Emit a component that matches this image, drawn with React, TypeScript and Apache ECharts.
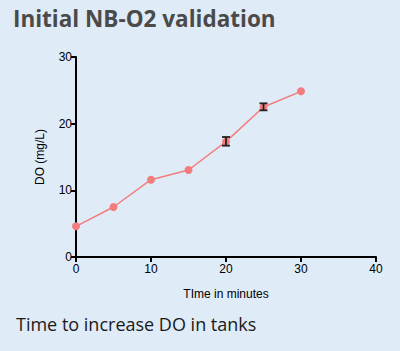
import React, { useEffect, useRef } from "react";
import * as echarts from "echarts";

const minutes = [0, 5, 10, 15, 20, 25, 30];
const doValues = [4.6, 7.5, 11.6, 13.05, 17.3, 22.5, 24.85];
const errLow = [4.6, 7.5, 11.6, 13.05, 16.7, 22.0, 24.85];
const errHigh = [4.6, 7.5, 11.6, 13.05, 18.0, 23.05, 24.85];
const xTicks = [0, 10, 20, 30, 40];
const yTicks = [0, 10, 20, 30];

export default function App() {
  const ref = useRef<HTMLDivElement>(null);
  useEffect(() => {
    const chart = echarts.init(ref.current!, null, { renderer: "svg" });
    const errData = minutes
      .map((m, i) => [m, errLow[i], errHigh[i]])
      .filter((d) => d[2] - d[1] > 0.05);
    chart.setOption({
      animation: false,
      backgroundColor: "#dfebf7",
      grid: { left: 76, right: 24, top: 57, bottom: 94 },
      xAxis: {
        type: "value",
        min: xTicks[0],
        max: xTicks[xTicks.length - 1],
        interval: 10,
        name: "TIme in minutes",
        nameLocation: "middle",
        nameGap: 31,
        nameTextStyle: { fontFamily: "Liberation Sans", fontSize: 12, color: "#000" },
        axisLine: { lineStyle: { color: "#000", width: 2 } },
        axisTick: { show: true, length: 5, lineStyle: { color: "#000", width: 2 } },
        axisLabel: { fontFamily: "Liberation Sans", fontSize: 12, color: "#000", margin: 6 },
        splitLine: { show: false },
      },
      yAxis: {
        type: "value",
        min: yTicks[0],
        max: yTicks[yTicks.length - 1],
        interval: 10,
        name: "DO (mg/L)",
        nameLocation: "middle",
        nameGap: 30,
        nameTextStyle: { fontFamily: "Liberation Sans", fontSize: 12, color: "#000" },
        axisLine: { show: true, lineStyle: { color: "#000", width: 2 } },
        axisTick: { show: true, length: 5, lineStyle: { color: "#000", width: 2 } },
        axisLabel: { fontFamily: "Liberation Sans", fontSize: 12, color: "#000", margin: 4 },
        splitLine: { show: false },
      },
      series: [
        {
          type: "line",
          data: minutes.map((m, i) => [m, doValues[i]]),
          symbol: "circle",
          symbolSize: 8,
          itemStyle: { color: "#f47c7c" },
          lineStyle: { color: "#f47c7c", width: 1.5 },
          z: 2,
        },
        {
          type: "custom",
          data: errData,
          z: 3,
          renderItem: (params: any, api: any) => {
            const x = api.value(0);
            const lo = api.coord([x, api.value(1)]);
            const hi = api.coord([x, api.value(2)]);
            const w = 4;
            const st = { stroke: "#222", lineWidth: 1.8 };
            return {
              type: "group",
              children: [
                { type: "line", shape: { x1: lo[0], y1: lo[1], x2: hi[0], y2: hi[1] }, style: st },
                { type: "line", shape: { x1: lo[0] - w, y1: lo[1], x2: lo[0] + w, y2: lo[1] }, style: st },
                { type: "line", shape: { x1: hi[0] - w, y1: hi[1], x2: hi[0] + w, y2: hi[1] }, style: st },
              ],
            };
          },
        },
      ],
      graphic: [
        {
          type: "text",
          left: 13,
          top: 7,
          style: {
            text: "Initial NB-O2 validation",
            font: "bold 22.5px 'Open Sans'",
            fill: "#4a4a4a",
          },
        },
        {
          type: "text",
          left: 16,
          top: 315,
          style: {
            text: "Time to increase DO in tanks",
            font: "18px 'Open Sans'",
            fill: "#1a1a1a",
          },
        },
      ],
    });
    return () => chart.dispose();
  }, []);
  return (
    <div
      ref={ref}
      style={{ position: "absolute", left: 0, top: 0, width: 400, height: 351 }}
    />
  );
}
